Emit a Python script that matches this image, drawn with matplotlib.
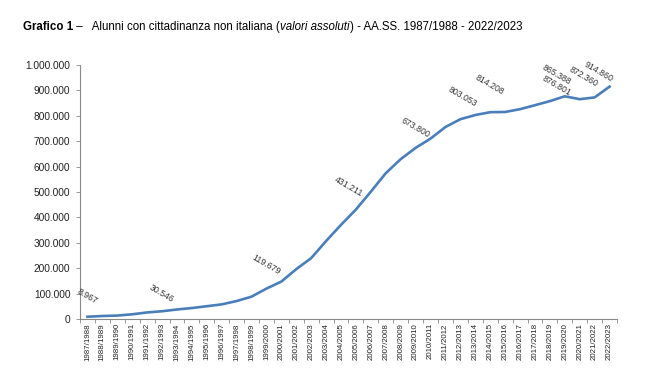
import matplotlib
matplotlib.use("Agg")
import matplotlib.pyplot as plt
import matplotlib.ticker as mticker
import numpy as np

plt.rcParams['font.family'] = ['Liberation Sans', 'DejaVu Sans']

# anni scolastici
years = list(range(1987, 2023))
categories = [f"{y}/{y + 1}" for y in years]

# alunni con cittadinanza non italiana
students = [8967, 11791, 13500, 18500, 25756, 30546, 37478, 43172, 50322, 57595,
            70657, 88000, 119679, 147406, 196414, 239808, 307141, 370803, 431211, 501420,
            574133, 629360, 673800, 710263, 755939, 786630, 803053, 814208, 815051, 826091,
            841719, 857729, 876801, 865388, 872360, 914860]

# indici dei punti con etichetta
labelled = [0, 5, 12, 18, 22, 26, 27, 32, 33, 34, 35]
# spostamento etichette (pixel)
label_offsets = {0: (0, 20), 5: (0, 18), 12: (0, 24), 18: (-7, 23), 22: (0, 20),
                 26: (-13, 18), 27: (-1, 27), 32: (-8, 10), 33: (-23, 24),
                 34: (-11, 21), 35: (-11, 15)}

fig = plt.figure(figsize=(6.45, 3.87), dpi=100)
ax = fig.add_axes([80 / 645, 1 - 319 / 387, (617 - 80) / 645, (319 - 65) / 387])

x = np.arange(len(categories))
ax.plot(x, students, color='#4A7EBB', lw=1.9, solid_joinstyle='round')

ax.set_xlim(-0.5, len(categories) - 0.5)
ax.set_ylim(0, 1000000)
ax.yaxis.set_major_locator(mticker.MultipleLocator(100000))
ax.yaxis.set_major_formatter(mticker.FuncFormatter(lambda v, p: f"{int(v):,}".replace(",", ".")))

ax.set_xticks(x)
ax.set_xticklabels(categories, rotation=90, fontsize=5.7, color='#222222')
ax.set_xticks(np.arange(-0.5, len(categories)), minor=True)
ax.tick_params(axis='x', which='major', length=0, pad=3)
ax.tick_params(axis='x', which='minor', length=3, color='#888888', width=0.6)
ax.tick_params(axis='y', length=3, color='#888888', width=0.6, labelsize=7.3, labelcolor='#222222', pad=4)

for side in ['top', 'right']:
    ax.spines[side].set_visible(False)
for side in ['left', 'bottom']:
    ax.spines[side].set_color('#888888')
    ax.spines[side].set_linewidth(0.8)

for i in labelled:
    dx, dy = label_offsets[i]
    txt = f"{students[i]:,}".replace(",", ".")
    ax.annotate(txt, (x[i], students[i]), xytext=(dx * 0.72, dy * 0.72), textcoords='offset points',
                ha='center', va='center', rotation=-30, fontsize=6.3, color='#333333',
                rotation_mode='anchor')

# titolo in pezzi: grassetto + normale + corsivo
fig.canvas.draw()
renderer = fig.canvas.get_renderer()
parts = [("Grafico 1", 'bold', 'normal'), (" \u2013   Alunni con cittadinanza non italiana (", 'normal', 'normal'),
         ("valori assoluti", 'normal', 'italic'), (") - AA.SS. 1987/1988 - 2022/2023", 'normal', 'normal')]
xpos = 23 / 645
for s, w, st in parts:
    t = fig.text(xpos, 1 - 27 / 387, s, fontsize=8.3, fontweight=w, fontstyle=st,
                 va='center', ha='left', color='black')
    bb = t.get_window_extent(renderer)
    xpos += bb.width / fig.bbox.width

fig.savefig("out.png", dpi=100)
